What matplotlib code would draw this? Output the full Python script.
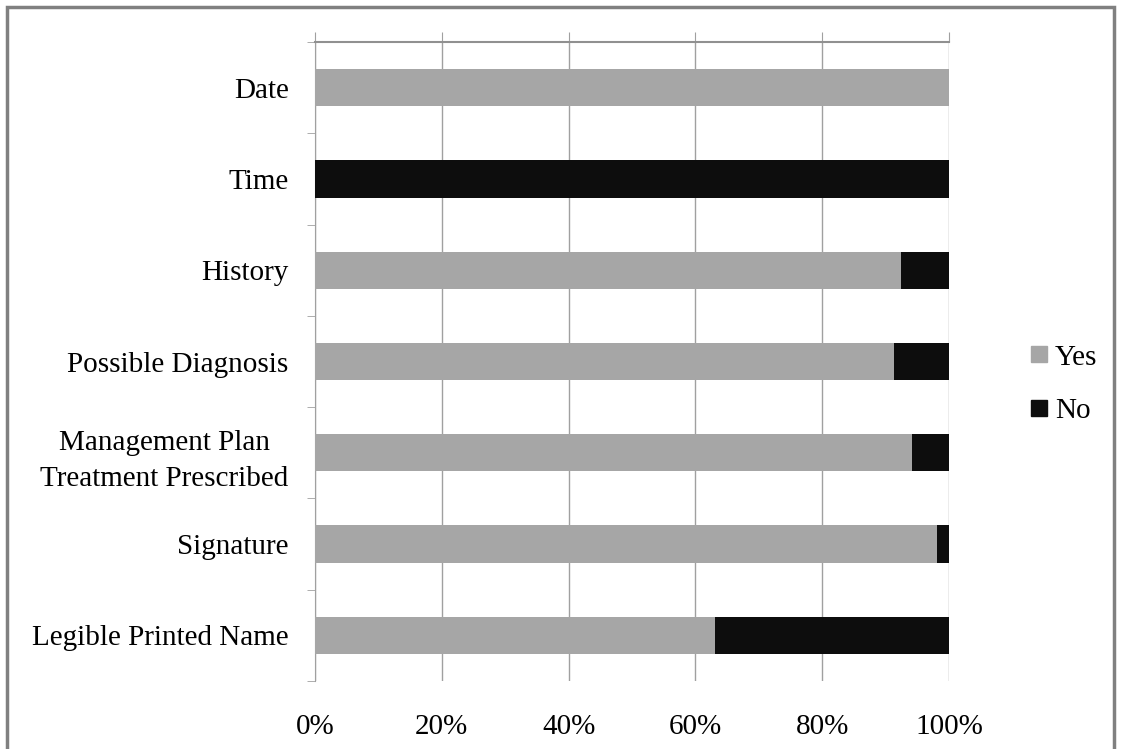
import numpy as np
import matplotlib.pyplot as plt
from matplotlib.patches import Rectangle
from matplotlib.lines import Line2D

plt.rcParams['font.family'] = ['Liberation Serif', 'DejaVu Serif']

categories = ["Date", "Time", "History", "Possible Diagnosis",
              "Management Plan\nTreatment Prescribed", "Signature",
              "Legible Printed Name"]
yes_pct = [100, 0, 92.5, 91.3, 94.2, 98.1, 63.1]
no_pct = [0, 100, 7.5, 8.7, 5.8, 1.9, 36.9]
x_ticks = [0, 20, 40, 60, 80, 100]

gray = "#a6a6a6"
black = "#0d0d0d"
line_col = "#a0a0a0"
fs = 21

fig = plt.figure(figsize=(11.21, 7.49), dpi=100)
ax = fig.add_axes([315/1121, 1 - 681/749, 634/1121, 639/749])

y = np.arange(len(categories))
ax.barh(y, yes_pct, height=0.41, color=gray, zorder=3)
ax.barh(y, no_pct, left=yes_pct, height=0.41, color=black, zorder=3)

ax.set_xlim(0, 100)
ax.set_ylim(len(categories) - 0.5, -0.5)

# value axis: gridlines, labels below, small marks above
ax.set_xticks(x_ticks)
ax.set_xticklabels([f"{v}%" for v in x_ticks], fontsize=fs)
ax.xaxis.set_ticks_position('top')
ax.xaxis.set_label_position('bottom')
ax.tick_params(axis='x', which='major', direction='out', length=7, color=line_col,
               labeltop=False, labelbottom=True, pad=17)
ax.grid(axis='x', color=line_col, linewidth=1, zorder=0)

# category axis: labels at bar centres, marks on boundaries
ax.set_yticks(y)
ax.set_yticklabels(categories, fontsize=fs, linespacing=1.5)
ax.set_yticks(np.arange(len(categories) + 1) - 0.5, minor=True)
ax.tick_params(axis='y', which='major', length=0, pad=19)
ax.tick_params(axis='y', which='minor', length=6, color=line_col, direction='out')
for lbl in ax.get_yticklabels():
    lbl.set_horizontalalignment('right')
    lbl.set_multialignment('center')

for side in ['right', 'bottom']:
    ax.spines[side].set_visible(False)
ax.spines['left'].set_color(line_col)
ax.spines['top'].set_color("#909090")
ax.spines['top'].set_linewidth(1.5)

handles = [Line2D([], [], marker='s', linestyle='none', markersize=11, color=gray),
           Line2D([], [], marker='s', linestyle='none', markersize=11, color=black)]
fig.legend(handles, ["Yes", "No"], loc='center left', bbox_to_anchor=(1004/1121, 1 - 384/749),
           frameon=False, fontsize=fs, handlelength=0.6, handletextpad=0.25, labelspacing=0.92)

# outer frame
fig.patches.append(Rectangle((7/1121, -0.05), 1107/1121, 1 - 7/749 + 0.05, transform=fig.transFigure,
                             fill=False, edgecolor="#808080", linewidth=2.5))

fig.savefig("out.png", dpi=100)
